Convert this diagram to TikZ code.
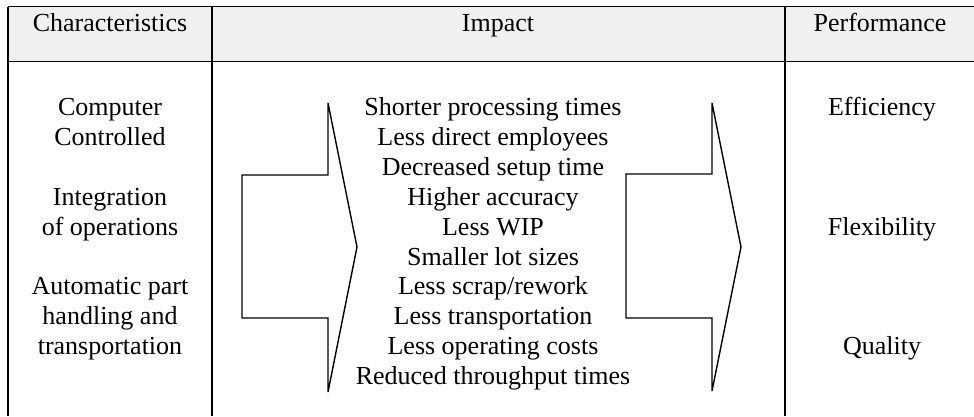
\documentclass[tikz,border=0pt]{standalone}
\usepackage{fontspec}
\setmainfont{Liberation Serif}
\begin{document}
\begin{tikzpicture}[x=1pt,y=-1pt,
  cell/.style={anchor=base,inner sep=0pt,font=\fontsize{26}{29.9}\selectfont},
  rule/.style={line width=1.1pt,black},
  bigarrow/.style={line width=1.4pt,black,line join=miter}]
  % canvas
  \useasboundingbox (0,0) rectangle (974,416);
  \fill[white] (0,0) rectangle (974,416);
  % header band and grid
  \fill[gray!12] (8,6.5) rectangle (974,61.5);
  \draw[rule] (8,6.5) -- (974,6.5);
  \draw[rule] (8,61.5) -- (974,61.5);
  \draw[rule] (8,6.5) -- (8,416);
  \draw[rule] (212,6.5) -- (212,416);
  \draw[rule] (785,6.5) -- (785,416);
  % header labels
  \node[cell] (hchar) at (110,31) {Characteristics};
  \node[cell] (himp)  at (498,31) {Impact};
  \node[cell] (hperf) at (880,31) {Performance};
  % characteristics
  \node[cell] (c1) at (110,{115.5+29.9*0}) {Computer};
  \node[cell] (c2) at (110,{115.5+29.9*1}) {Controlled};
  \node[cell] (c3) at (110,{115.5+29.9*3}) {Integration};
  \node[cell] (c4) at (110,{115.5+29.9*4}) {of operations};
  \node[cell] (c5) at (110,{115.5+29.9*6}) {Automatic part};
  \node[cell] (c6) at (110,{115.5+29.9*7}) {handling and};
  \node[cell] (c7) at (110,{115.5+29.9*8}) {transportation};
  % impact list
  \node[cell] (i1)  at (493,{115.5+29.9*0}) {Shorter processing times};
  \node[cell] (i2)  at (493,{115.5+29.9*1}) {Less direct employees};
  \node[cell] (i3)  at (493,{115.5+29.9*2}) {Decreased setup time};
  \node[cell] (i4)  at (493,{115.5+29.9*3}) {Higher accuracy};
  \node[cell] (i5)  at (493,{115.5+29.9*4}) {Less WIP};
  \node[cell] (i6)  at (493,{115.5+29.9*5}) {Smaller lot sizes};
  \node[cell] (i7)  at (493,{115.5+29.9*6}) {Less scrap/rework};
  \node[cell] (i8)  at (493,{115.5+29.9*7}) {Less transportation};
  \node[cell] (i9)  at (493,{115.5+29.9*8}) {Less operating costs};
  \node[cell] (i10) at (493,{115.5+29.9*9}) {Reduced throughput times};
  % performance
  \node[cell] (p1) at (882,{115.5+29.9*0}) {Efficiency};
  \node[cell] (p2) at (882,{115.5+29.9*4}) {Flexibility};
  \node[cell] (p3) at (882,{115.5+29.9*8}) {Quality};
  % block arrows
  \draw[bigarrow] (242,175) -- (328,175) -- (328,103) -- (357,247)
        -- (328,392) -- (328,318) -- (242,318) -- cycle;
  \draw[bigarrow] (626,174) -- (712,174) -- (712,103) -- (741,247)
        -- (712,391) -- (712,318) -- (626,318) -- cycle;
\end{tikzpicture}
\end{document}
